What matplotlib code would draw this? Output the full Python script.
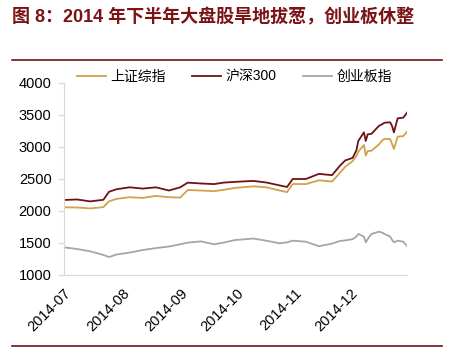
import matplotlib.pyplot as plt
import matplotlib.dates as mdates
import numpy as np
from matplotlib.lines import Line2D

plt.rcParams['font.family'] = ['Liberation Sans', 'Noto Sans CJK SC', 'DejaVu Sans']

# dates sampled along the half year
dates = ['2014-07-01', '2014-07-08', '2014-07-15', '2014-07-22', '2014-07-25', '2014-07-29',
         '2014-08-05', '2014-08-12', '2014-08-19', '2014-08-26', '2014-09-01', '2014-09-05',
         '2014-09-12', '2014-09-19', '2014-09-24', '2014-09-30', '2014-10-10', '2014-10-17',
         '2014-10-24', '2014-10-28', '2014-10-31', '2014-11-07', '2014-11-14', '2014-11-21',
         '2014-11-25', '2014-11-28', '2014-12-02', '2014-12-04', '2014-12-05', '2014-12-08',
         '2014-12-09', '2014-12-10', '2014-12-12', '2014-12-16', '2014-12-18', '2014-12-19',
         '2014-12-22', '2014-12-23', '2014-12-24', '2014-12-26', '2014-12-29', '2014-12-31']

shanghai = [2057, 2055, 2040, 2060, 2150, 2190, 2215, 2205, 2235, 2215, 2210, 2328,
            2320, 2310, 2330, 2360, 2385, 2370, 2320, 2295, 2422, 2420, 2480, 2460,
            2590, 2690, 2780, 2860, 2927, 3031, 2865, 2937, 2940, 3040, 3110, 3125,
            3125, 3050, 2969, 3161, 3170, 3240]

csi300 = [2172, 2180, 2150, 2175, 2300, 2340, 2370, 2350, 2370, 2320, 2370, 2443,
          2430, 2420, 2443, 2455, 2470, 2445, 2400, 2375, 2500, 2500, 2580, 2560,
          2700, 2790, 2830, 2950, 3094, 3229, 3094, 3198, 3205, 3330, 3360, 3380,
          3385, 3330, 3229, 3448, 3458, 3536]

chinext = [1432, 1406, 1370, 1313, 1280, 1320, 1350, 1390, 1420, 1445, 1480, 1505,
           1525, 1480, 1505, 1545, 1570, 1535, 1495, 1510, 1536, 1520, 1450, 1490,
           1530, 1540, 1560, 1600, 1641, 1599, 1510, 1560, 1641, 1677, 1660, 1640,
           1600, 1550, 1510, 1536, 1520, 1453]

x = np.array(dates, dtype='datetime64[D]')

fig = plt.figure(figsize=(4.53, 3.48), dpi=100)
ax = fig.add_axes([0.1413, 0.2098, 0.7572, 0.5517])

ax.plot(x, shanghai, color='#D0A24A', lw=1.3, label='上证综指')
ax.plot(x, csi300, color='#6E1216', lw=1.3, label='沪深300')
ax.plot(x, chinext, color='#A6A6A6', lw=1.3, label='创业板指')

ax.set_ylim(1000, 4000)
ax.set_yticks([1000, 1500, 2000, 2500, 3000, 3500, 4000])
ax.set_xlim(np.datetime64('2014-07-01'), np.datetime64('2014-12-31'))
ax.xaxis.set_major_locator(mdates.MonthLocator())
ax.xaxis.set_major_formatter(mdates.DateFormatter('%Y-%m'))

for s in ['top', 'right']:
    ax.spines[s].set_visible(False)
for s in ['left', 'bottom']:
    ax.spines[s].set_color('#D9D9D9')
    ax.spines[s].set_linewidth(0.8)
ax.tick_params(axis='y', length=4, color='#D9D9D9', labelsize=10.5, pad=5)
ax.tick_params(axis='x', length=0, labelsize=10.5, pad=8)
for lab in ax.get_xticklabels():
    lab.set_rotation(45)
    lab.set_ha('right')
    lab.set_va('top')
    lab.set_rotation_mode('anchor')

ax.legend(loc='upper left', bbox_to_anchor=(0.038, 1.07), ncol=3, frameon=False,
          fontsize=10, handlelength=2.1, handletextpad=0.3, columnspacing=1.9,
          borderaxespad=0, borderpad=0)

fig.text(0.026, 0.95, '图 8：2014 年下半年大盘股旱地拔葱，创业板休整', fontsize=13,
         fontweight='bold', color='#7A1316', va='center', ha='left')

fig.add_artist(Line2D([0.0265, 0.9757], [0.8276, 0.8276], color='#6E1216', lw=1.2))
fig.add_artist(Line2D([0.0265, 0.9757], [0.006, 0.006], color='#6E1216', lw=1.2))

fig.savefig('out.png', dpi=100)
